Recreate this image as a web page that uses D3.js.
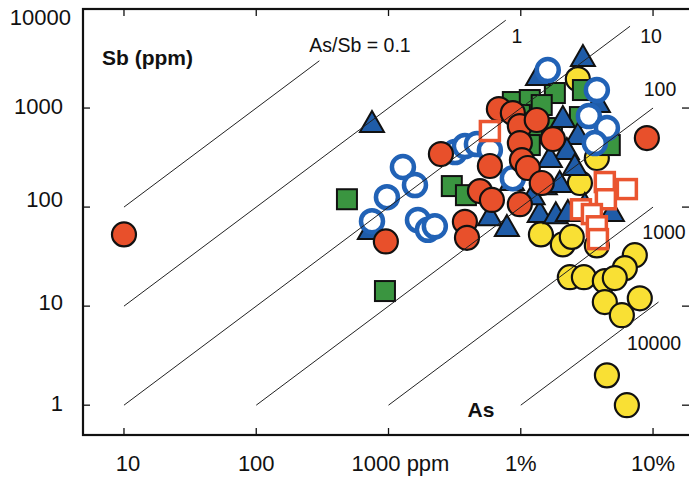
<!DOCTYPE html>
<html><head><meta charset="utf-8">
<script src="https://cdn.jsdelivr.net/npm/d3@7"></script>
<style>
html,body{margin:0;padding:0;background:#fff;}
svg{display:block;font-family:"Liberation Sans",Arial,sans-serif;}
</style></head>
<body>
<svg id="chart" width="689" height="479"></svg>
<script>
// ---- Data (As ppm, Sb ppm) ----
const xTicks = [10, 100, 1000, 10000, 100000];
const xTickLabels = ["10", "100", "1000 ppm", "1%", "10%"];
const yTicks = [1, 10, 100, 1000, 10000];
const yTickLabels = ["1", "10", "100", "1000", "10000"];

// As/Sb ratio reference lines: ratio, As start, As end
const ratios = [0.1, 1, 10, 100, 1000, 10000];
const ratioStartAs = [10, 10, 10, 100, 1000, 10000];
const ratioEndAs = [300, 7700, 67000, 100000, 100000, 110000];
const ratioLabels = ["As/Sb = 0.1", "1", "10", "100", "1000", "10000"];

const redCircles = [
  [10,53],[955,45],[2490,343],[3780,71],[3920,49],[4910,145],[6050,118],[5840,260],
  [6830,977],[8710,890],[9840,658],[13200,757],[17500,486],[9840,443],[10200,298],
  [11300,248],[14400,175],[9840,107],[89800,498]
];
const yellowCircles = [
  [27000,1963],[37600,313],[28000,175],[14200,53],[20800,42],[24300,50],[37600,41],
  [72800,32.7],[61200,24.2],[23500,19.6],[30000,19.6],[43200,17.9],[51400,19.2],
  [79400,12.0],[43200,11.0],[58100,8.1],[44800,2.0],[63400,1.0]
];
const blueTriangles = [
  [750,673],[723,56],[5840,77],[7850,60],[13500,2010],[29500,3120],[20800,757],
  [27000,509],[22300,359],[16600,298],[25600,248],[15200,159],[8570,175],[13900,83],
  [18400,81],[22700,85],[30500,100],[48900,85],[12300,126],[19700,167],[38300,1072]
];
const greenSquares = [
  [485,120],[940,14.2],[3010,163],[3850,132],[8710,1150],[11700,1205],[18100,1418],
  [29500,1520],[28000,811],[13200,559],[11700,423],[17200,628],[47100,423],[9840,850],
  [14400,1072]
];
const blueOpenCircles = [
  [750,72],[973,126],[1285,254],[1585,167],[1670,74],[1985,59],[2240,64],[3180,359],
  [3780,413],[4660,433],[5840,377],[16000,2420],[37600,1520],[32700,830],[44800,628],
  [36300,443],[8710,196]
];
const redOpenSquares = [
  [5840,586],[43200,179],[63400,152],[44000,120],[28500,95],[34500,85],[37600,64],[38300,47.5]
];

// ---- Drawing ----
const svg = d3.select("#chart");
const L = 83, R = 689, T = 9, B = 435;
const x = d3.scaleLog().domain([4.9, 187000]).range([L, R]);
const y = d3.scaleLog().domain([0.5, 10000]).range([B, T]);

const RED = "#e8502b", YEL = "#f9e034", BLUE = "#1f5ca8", GREEN = "#3a9540", RING = "#2162b6";

const g = svg.append("g");

// yellow circles
g.append("g").selectAll("circle").data(yellowCircles).join("circle")
  .attr("cx", d => x(d[0])).attr("cy", d => y(d[1])).attr("r", 12)
  .attr("fill", YEL).attr("stroke", "#111").attr("stroke-width", 2.2);

// green squares
g.append("g").selectAll("rect").data(greenSquares).join("rect")
  .attr("x", d => x(d[0]) - 10).attr("y", d => y(d[1]) - 10)
  .attr("width", 20).attr("height", 20)
  .attr("fill", GREEN).attr("stroke", "#111").attr("stroke-width", 2);

// blue triangles
const tri = "M0,-14L12,7L-12,7Z";
g.append("g").selectAll("path").data(blueTriangles).join("path")
  .attr("d", tri).attr("transform", d => `translate(${x(d[0])},${y(d[1])})`)
  .attr("fill", BLUE).attr("stroke", "#111").attr("stroke-width", 2).attr("stroke-linejoin", "miter");

// blue open circles
g.append("g").selectAll("circle").data(blueOpenCircles).join("circle")
  .attr("cx", d => x(d[0])).attr("cy", d => y(d[1])).attr("r", 11)
  .attr("fill", "#fff").attr("stroke", RING).attr("stroke-width", 4.5);

// red filled circles
g.append("g").selectAll("circle").data(redCircles).join("circle")
  .attr("cx", d => x(d[0])).attr("cy", d => y(d[1])).attr("r", 12)
  .attr("fill", RED).attr("stroke", "#111").attr("stroke-width", 2.2);

// red open squares
g.append("g").selectAll("rect").data(redOpenSquares).join("rect")
  .attr("x", d => x(d[0]) - 9.5).attr("y", d => y(d[1]) - 9.5)
  .attr("width", 19).attr("height", 19)
  .attr("fill", "#fff").attr("stroke", "#ea5530").attr("stroke-width", 3.5);

// ratio lines (on top)
const lineData = ratios.map((r, i) => ({ r, a0: ratioStartAs[i], a1: ratioEndAs[i] }));
svg.append("g").selectAll("line").data(lineData).join("line")
  .attr("x1", d => x(d.a0)).attr("y1", d => y(d.a0 / d.r))
  .attr("x2", d => x(d.a1)).attr("y2", d => y(d.a1 / d.r))
  .attr("stroke", "#222").attr("stroke-width", 1);

// ratio labels
const ratioLabelPos = [[360, 45, "middle"], [517, 36, "middle"], [651, 36, "middle"], [660, 89, "middle"], [664, 232, "middle"], [654, 343, "middle"]];
svg.append("g").selectAll("text").data(ratioLabels).join("text")
  .attr("x", (d, i) => ratioLabelPos[i][0]).attr("y", (d, i) => ratioLabelPos[i][1])
  .attr("dy", "0.36em").attr("text-anchor", "middle")
  .attr("font-size", 19.5).attr("fill", "#111").text(d => d);

// frame
const frame = svg.append("g").attr("stroke", "#111").attr("fill", "none");
frame.append("rect").attr("x", L).attr("y", T).attr("width", R - L + 2).attr("height", B - T).attr("stroke-width", 2.2);

// ticks inward
const tk = svg.append("g").attr("stroke", "#111").attr("stroke-width", 1.3);
xTicks.forEach(v => {
  tk.append("line").attr("x1", x(v)).attr("x2", x(v)).attr("y1", B).attr("y2", B - 7);
  tk.append("line").attr("x1", x(v)).attr("x2", x(v)).attr("y1", T).attr("y2", T + 7);
});
yTicks.forEach(v => {
  tk.append("line").attr("x1", L).attr("x2", L + 7).attr("y1", y(v)).attr("y2", y(v));
  tk.append("line").attr("x1", R).attr("x2", R - 7).attr("y1", y(v)).attr("y2", y(v));
});

// tick labels
const xLabelShift = [4, 0, 12, 0, 0];
svg.append("g").selectAll("text").data(xTicks).join("text")
  .attr("x", (d, i) => x(d) + xLabelShift[i]).attr("y", 463).attr("dy", "0.36em")
  .attr("text-anchor", "middle").attr("font-size", 22).attr("fill", "#111")
  .text((d, i) => xTickLabels[i]);

const yLabelShift = [-2, -4, -8, -2, 8];
const yLabelX = [63, 63, 63, 63, 71];
svg.append("g").selectAll("text").data(yTicks).join("text")
  .attr("x", (d, i) => yLabelX[i]).attr("y", (d, i) => y(d) + yLabelShift[i]).attr("dy", "0.36em")
  .attr("text-anchor", "end").attr("font-size", 22).attr("fill", "#111")
  .text((d, i) => yTickLabels[i]);

// axis titles
svg.append("text").attr("x", 102).attr("y", 57).attr("dy", "0.36em")
  .attr("font-size", 21).attr("font-weight", "bold").attr("fill", "#111").text("Sb (ppm)");
svg.append("text").attr("x", 481).attr("y", 409).attr("dy", "0.36em").attr("text-anchor", "middle")
  .attr("font-size", 21).attr("font-weight", "bold").attr("fill", "#111").text("As");
</script>
</body></html>
